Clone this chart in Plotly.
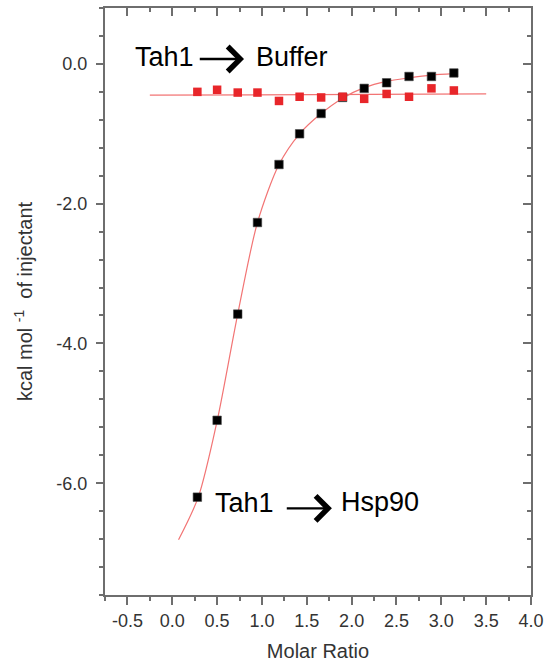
import plotly.graph_objects as go

# Data
molar_ratio = [0.28, 0.50, 0.73, 0.95, 1.19, 1.42, 1.66, 1.90, 2.14, 2.39, 2.64, 2.89, 3.14]
hsp90_heat = [-6.20, -5.10, -3.58, -2.27, -1.44, -1.00, -0.71, -0.48, -0.35, -0.27, -0.18, -0.18, -0.13]
buffer_heat = [-0.40, -0.37, -0.41, -0.41, -0.53, -0.47, -0.48, -0.47, -0.50, -0.43, -0.47, -0.35, -0.38]

fit_x = [0.07, 0.29, 0.50, 0.73, 0.95, 1.19, 1.42, 1.66, 1.90, 2.14, 2.39, 2.64, 2.89, 3.14]
fit_y = [-6.81, -6.20, -5.11, -3.58, -2.27, -1.44, -1.00, -0.71, -0.49, -0.34, -0.25, -0.20, -0.16, -0.14]

buffer_fit_x = [-0.25, 3.50]
buffer_fit_y = [-0.448, -0.429]

x_range = [-0.75, 4.0]
y_range = [-7.6, 0.8]
x_ticks = [-0.5, 0.0, 0.5, 1.0, 1.5, 2.0, 2.5, 3.0, 3.5, 4.0]
y_ticks = [0.0, -2.0, -4.0, -6.0]

FONT = "Liberation Sans, Arial, Helvetica, sans-serif"
FIT_COLOR = "#f27474"
RED = "#e8262a"
AXIS = "#6e6e6e"

fig = go.Figure()
fig.add_trace(go.Scatter(x=fit_x, y=fit_y, mode="lines",
                         line=dict(color=FIT_COLOR, width=1.2, shape="spline", smoothing=0.8),
                         showlegend=False, hoverinfo="skip"))
fig.add_trace(go.Scatter(x=buffer_fit_x, y=buffer_fit_y, mode="lines",
                         line=dict(color=FIT_COLOR, width=1.2),
                         showlegend=False, hoverinfo="skip"))
fig.add_trace(go.Scatter(x=molar_ratio, y=hsp90_heat, mode="markers",
                         marker=dict(symbol="square", size=8.5, color="#000000",
                                     line=dict(width=0.6, color="#444444")),
                         showlegend=False))
fig.add_trace(go.Scatter(x=molar_ratio, y=buffer_heat, mode="markers",
                         marker=dict(symbol="square", size=8.5, color=RED,
                                     line=dict(width=0)),
                         showlegend=False))
# dummy trace for mirrored (top/right) axes
fig.add_trace(go.Scatter(x=[None], y=[None], xaxis="x2", yaxis="y2", showlegend=False))

tickfont = dict(family=FONT, size=18, color="#333333")
titlefont = dict(family=FONT, size=20, color="#333333")

fig.update_layout(
    width=549, height=665,
    margin=dict(l=105, r=18, t=8, b=70, autoexpand=False),
    paper_bgcolor="white", plot_bgcolor="white",
    font=dict(family=FONT, color="#222222"),
    xaxis=dict(range=x_range, tickmode="array", tickvals=x_ticks,
               ticktext=[f"{v:.1f}" for v in x_ticks], automargin=False,
               ticks="outside", ticklen=8, tickwidth=1.5, tickcolor=AXIS,
               minor=dict(tickmode="linear", tick0=-0.75, dtick=0.25, ticks="outside",
                          ticklen=4, tickwidth=1.5, tickcolor=AXIS, showgrid=False),
               showline=True, linecolor=AXIS, linewidth=2, showgrid=False, zeroline=False,
               tickfont=tickfont, ticklabelstandoff=0,
               title=dict(text="Molar Ratio", font=titlefont, standoff=14)),
    yaxis=dict(range=y_range, tickmode="array", tickvals=y_ticks,
               ticktext=[f"{v:.1f}" for v in y_ticks], automargin=False,
               ticks="outside", ticklen=7, tickwidth=1.5, tickcolor=AXIS,
               minor=dict(tickmode="linear", tick0=0.0, dtick=0.4, ticks="outside",
                          ticklen=4, tickwidth=1.5, tickcolor=AXIS, showgrid=False),
               showline=True, linecolor=AXIS, linewidth=2, showgrid=False, zeroline=False,
               tickfont=tickfont, ticklabelstandoff=5,
               title=dict(text="kcal mol <sup>-1</sup>  of injectant", font=titlefont,
                          standoff=18)),
    xaxis2=dict(overlaying="x", side="top", matches="x", range=x_range, automargin=False,
                tickmode="array", tickvals=x_ticks, showticklabels=False,
                ticks="inside", ticklen=8, tickwidth=1.5, tickcolor=AXIS,
                minor=dict(tickmode="linear", tick0=-0.75, dtick=0.25, ticks="inside",
                           ticklen=4, tickwidth=1.5, tickcolor=AXIS, showgrid=False),
                showline=True, linecolor=AXIS, linewidth=2, showgrid=False, zeroline=False),
    yaxis2=dict(overlaying="y", side="right", matches="y", range=y_range, automargin=False,
                tickmode="array", tickvals=y_ticks, showticklabels=False,
                ticks="inside", ticklen=8, tickwidth=1.5, tickcolor=AXIS,
                minor=dict(tickmode="linear", tick0=0.0, dtick=0.4, ticks="inside",
                           ticklen=4, tickwidth=1.5, tickcolor=AXIS, showgrid=False),
                showline=True, linecolor=AXIS, linewidth=2, showgrid=False, zeroline=False),
)

annfont = dict(family=FONT, size=27, color="#000000")
fig.add_annotation(x=-0.09, y=0.10, xref="x", yref="y", text="Tah1", showarrow=False,
                   font=annfont, xanchor="center", yanchor="middle")
fig.add_annotation(x=1.33, y=0.10, xref="x", yref="y", text="Buffer", showarrow=False,
                   font=annfont, xanchor="center", yanchor="middle")
fig.add_annotation(x=0.80, y=0.07, ax=0.29, ay=0.07, xref="x", yref="y", axref="x", ayref="y",
                   text="", showarrow=True, arrowhead=4, arrowsize=2.0, arrowwidth=2.4,
                   arrowcolor="#000000")
fig.add_annotation(x=0.80, y=-6.28, xref="x", yref="y", text="Tah1", showarrow=False,
                   font=annfont, xanchor="center", yanchor="middle")
fig.add_annotation(x=2.32, y=-6.27, xref="x", yref="y", text="Hsp90", showarrow=False,
                   font=annfont, xanchor="center", yanchor="middle")
fig.add_annotation(x=1.78, y=-6.36, ax=1.26, ay=-6.36, xref="x", yref="y", axref="x", ayref="y",
                   text="", showarrow=True, arrowhead=4, arrowsize=2.0, arrowwidth=2.4,
                   arrowcolor="#000000")

fig.write_html("out.html",
               config={"displayModeBar": False},
               post_script="document.body.style.margin='0';document.body.style.padding='0';")
